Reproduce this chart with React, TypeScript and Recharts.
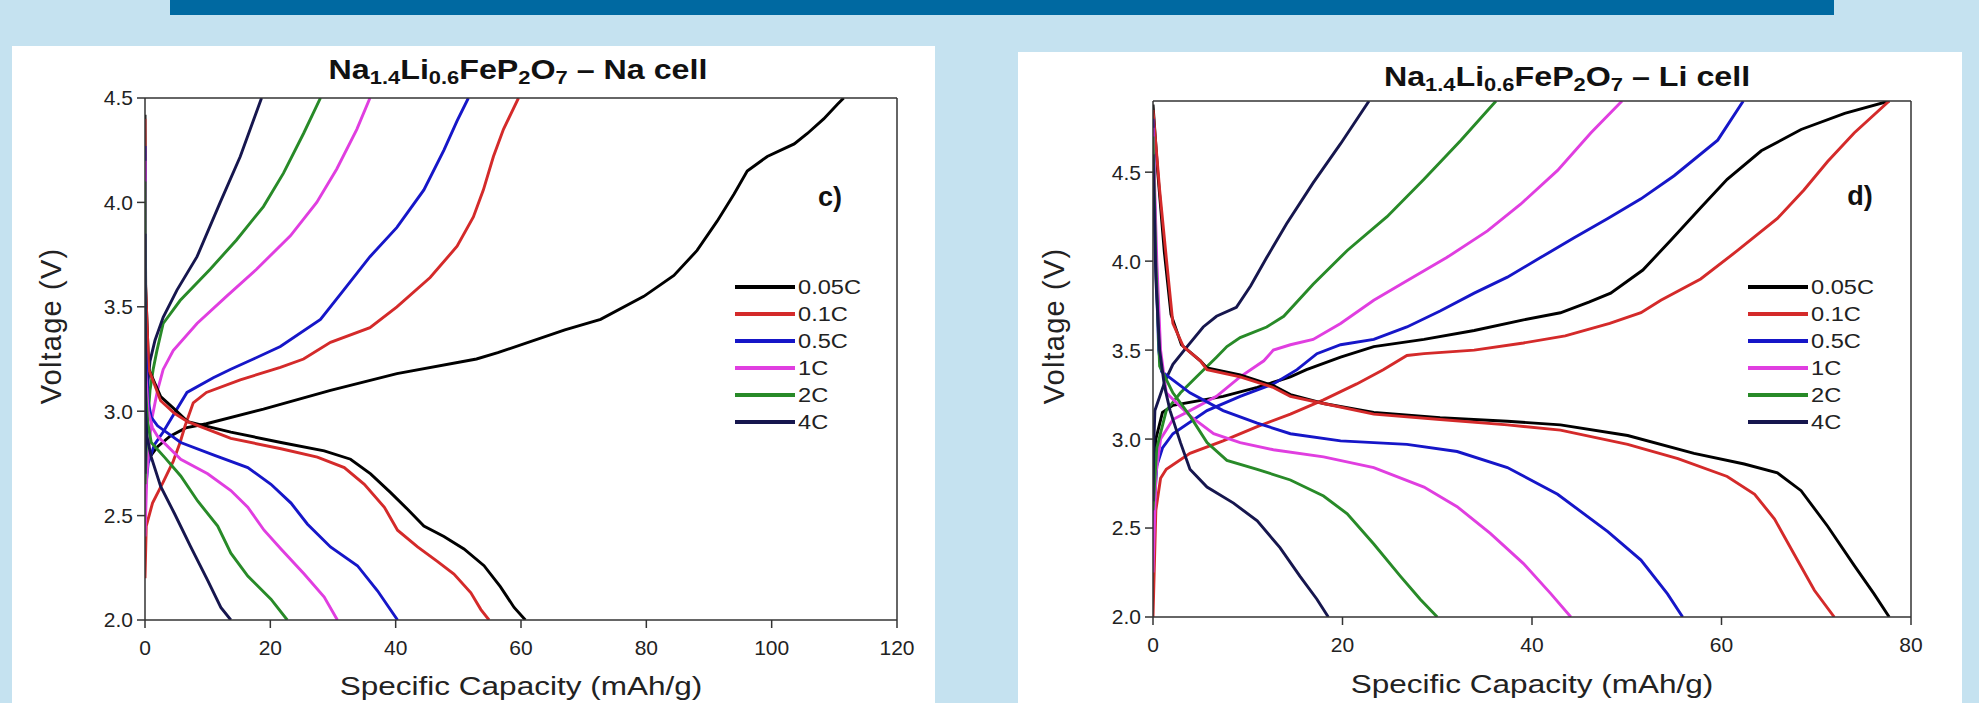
import { LineChart, Line, XAxis, YAxis } from "recharts";

const FONT = '"Liberation Sans", Arial, Helvetica, sans-serif';

type Pt = [number, number];

const rates = ["0.05C", "0.1C", "0.5C", "1C", "2C", "4C"];
const rateColors = ["#000000", "#d42a2a", "#1616c8", "#e03ee0", "#288a28", "#16164e"];

// ---- Na cell: charge curves [capacity mAh/g, voltage V]
const naCh005: Pt[] = [[0, 2.75], [2, 2.83], [4, 2.88], [6.5, 2.92], [9.8, 2.94], [18.9, 3.01], [29.6, 3.1], [40.2, 3.18], [52.9, 3.25], [56.3, 3.28], [67, 3.39], [72.7, 3.44], [79.6, 3.55], [84.4, 3.65], [88.1, 3.77], [91.3, 3.91], [94, 4.04], [96.1, 4.15], [99.3, 4.22], [103.6, 4.28], [105.7, 4.33], [108.3, 4.4], [110.5, 4.47], [111.5, 4.5]];
const naCh01: Pt[] = [[0, 2.2], [0.2, 2.45], [1.2, 2.56], [2.9, 2.66], [4.5, 2.76], [5.6, 2.85], [6.4, 2.93], [7.7, 3.04], [9.8, 3.09], [15.2, 3.15], [21.6, 3.21], [25.3, 3.25], [29.6, 3.33], [35.9, 3.4], [40.2, 3.5], [45.5, 3.64], [49.8, 3.79], [52.4, 3.93], [54, 4.06], [55.6, 4.22], [57.2, 4.35], [59.6, 4.5]];
const naCh05: Pt[] = [[0, 2.6], [0.5, 2.75], [1.5, 2.84], [2.9, 2.9], [5.1, 3.01], [6.7, 3.09], [10.9, 3.16], [13.6, 3.2], [17.3, 3.25], [21.6, 3.31], [28, 3.44], [31.7, 3.58], [35.9, 3.74], [40.2, 3.88], [44.5, 4.06], [47.7, 4.25], [49.8, 4.39], [51.6, 4.5]];
const naCh1: Pt[] = [[0, 2.4], [0.3, 2.7], [1, 2.95], [2, 3.1], [2.9, 3.2], [4.5, 3.29], [8.3, 3.42], [13, 3.55], [17.8, 3.68], [23.2, 3.84], [27.4, 4.0], [30.6, 4.16], [33.8, 4.35], [35.9, 4.5]];
const naCh2: Pt[] = [[0, 2.65], [0.3, 2.9], [0.8, 3.1], [1.3, 3.2], [1.9, 3.29], [2.9, 3.42], [5.6, 3.53], [10.4, 3.68], [14.6, 3.82], [18.9, 3.98], [22.1, 4.14], [25.3, 4.33], [28, 4.5]];
const naCh4: Pt[] = [[0, 2.7], [0.2, 3.0], [0.5, 3.15], [0.8, 3.24], [1.6, 3.34], [2.9, 3.45], [5.1, 3.58], [8.3, 3.74], [12, 4.0], [15.2, 4.22], [18.6, 4.5]];

// ---- Na cell: discharge curves
const naDis005: Pt[] = [[0, 4.42], [0.1, 3.6], [0.6, 3.2], [2.5, 3.07], [4.7, 3.01], [6.8, 2.95], [13.7, 2.9], [21.7, 2.85], [28.6, 2.81], [32.8, 2.77], [36, 2.7], [39.2, 2.61], [41.9, 2.53], [44.5, 2.45], [47.7, 2.4], [50.9, 2.34], [54.1, 2.26], [56.7, 2.16], [58.9, 2.06], [60.7, 2.0]];
const naDis01: Pt[] = [[0, 4.4], [0.1, 3.6], [0.6, 3.2], [2.5, 3.05], [4.7, 2.99], [6.8, 2.95], [13.7, 2.87], [21.7, 2.82], [27.5, 2.78], [31.8, 2.73], [35, 2.65], [38.2, 2.54], [40.3, 2.43], [43.5, 2.35], [46.7, 2.28], [49.3, 2.22], [52, 2.13], [53.6, 2.05], [54.9, 2.0]];
const naDis05: Pt[] = [[0, 4.27], [0.1, 3.3], [0.5, 3.05], [1, 2.97], [2, 2.93], [5.7, 2.85], [11, 2.79], [16.4, 2.73], [20.1, 2.65], [23.3, 2.56], [25.9, 2.46], [29.6, 2.35], [33.9, 2.26], [37.1, 2.14], [40.3, 2.0]];
const naDis1: Pt[] = [[0, 4.2], [0.1, 3.2], [0.5, 3.0], [1.2, 2.92], [2, 2.88], [5.7, 2.77], [10, 2.7], [13.7, 2.62], [16.4, 2.54], [19, 2.43], [21.7, 2.34], [25.4, 2.22], [28.6, 2.11], [30.7, 2.0]];
const naDis2: Pt[] = [[0, 4.1], [0.1, 3.1], [0.4, 2.95], [1, 2.85], [3.1, 2.78], [5.7, 2.69], [8.4, 2.57], [11.6, 2.45], [13.7, 2.32], [16.4, 2.21], [20.1, 2.1], [22.7, 2.0]];
const naDis4: Pt[] = [[0, 3.85], [0.1, 3.0], [0.3, 2.88], [1, 2.78], [2.5, 2.64], [4.7, 2.51], [7.3, 2.35], [10, 2.19], [12.1, 2.06], [13.7, 2.0]];

// ---- Li cell: charge curves
const liCh005: Pt[] = [[0, 2.7], [0.3, 3.0], [1, 3.15], [2.1, 3.19], [7.4, 3.24], [11, 3.29], [14.5, 3.35], [16.2, 3.39], [19.8, 3.46], [23.3, 3.52], [28.6, 3.56], [33.9, 3.61], [39.1, 3.67], [43, 3.71], [46, 3.77], [48.3, 3.82], [51.7, 3.95], [54.7, 4.12], [57.8, 4.3], [60.6, 4.46], [64.2, 4.62], [68.4, 4.74], [73, 4.83], [77.7, 4.9]];
const liCh01: Pt[] = [[0, 2.0], [0.3, 2.6], [0.8, 2.78], [1.4, 2.83], [3.9, 2.92], [7.4, 2.99], [11, 3.07], [14.5, 3.14], [18, 3.22], [21.5, 3.31], [24.3, 3.39], [26.8, 3.47], [28.6, 3.48], [33.9, 3.5], [39.1, 3.54], [43.5, 3.58], [48.2, 3.65], [51.5, 3.71], [53.6, 3.78], [57.8, 3.9], [61.7, 4.06], [65.9, 4.24], [68.7, 4.4], [71.2, 4.56], [74, 4.72], [77.7, 4.9]];
const liCh05: Pt[] = [[0, 2.5], [0.4, 2.85], [1, 2.95], [2.1, 3.03], [5.7, 3.16], [9.2, 3.24], [12.7, 3.31], [15.2, 3.39], [17.3, 3.48], [19.8, 3.53], [23.3, 3.56], [26.8, 3.63], [30.3, 3.72], [33.9, 3.82], [37.4, 3.91], [40.9, 4.02], [44.4, 4.13], [48, 4.24], [51.5, 4.35], [55, 4.48], [59.6, 4.68], [62.3, 4.9]];
const liCh1: Pt[] = [[0, 2.25], [0.3, 2.8], [0.8, 3.0], [2.1, 3.11], [3.9, 3.16], [6.7, 3.24], [9.2, 3.35], [11.7, 3.44], [12.7, 3.5], [14.5, 3.53], [16.9, 3.56], [19.8, 3.65], [23.3, 3.78], [26.8, 3.89], [31, 4.02], [35.3, 4.17], [38.8, 4.32], [42.7, 4.51], [46.2, 4.72], [49.5, 4.9]];
const liCh2: Pt[] = [[0, 2.6], [0.4, 2.95], [1.4, 3.16], [2.9, 3.26], [4.6, 3.35], [6.7, 3.46], [7.8, 3.52], [9.2, 3.57], [12, 3.63], [13.8, 3.69], [16.9, 3.87], [20.5, 4.06], [24.7, 4.25], [28.6, 4.46], [32.5, 4.68], [36.2, 4.9]];
const liCh4: Pt[] = [[0, 2.65], [0.1, 3.0], [0.2, 3.16], [1.3, 3.33], [2.1, 3.42], [3.6, 3.52], [5.3, 3.63], [6.7, 3.69], [8.8, 3.74], [10.3, 3.86], [12, 4.02], [14.1, 4.21], [16.9, 4.44], [19.8, 4.66], [22.8, 4.9]];

// ---- Li cell: discharge curves
const liDis005: Pt[] = [[0, 4.88], [0.5, 4.5], [1.2, 4.05], [1.9, 3.7], [3, 3.53], [5, 3.44], [5.7, 3.4], [9.2, 3.36], [12.7, 3.3], [14.5, 3.25], [18, 3.2], [23.3, 3.15], [30.3, 3.12], [37.4, 3.1], [43, 3.08], [50.1, 3.02], [57.1, 2.92], [62.4, 2.86], [65.9, 2.81], [68.4, 2.71], [71.2, 2.51], [74, 2.29], [76.1, 2.13], [77.7, 2.0]];
const liDis01: Pt[] = [[0, 4.85], [0.7, 4.4], [1.4, 4.02], [2.1, 3.65], [3.2, 3.52], [5, 3.44], [5.7, 3.39], [9.2, 3.35], [12.7, 3.29], [14.5, 3.24], [18, 3.2], [23.3, 3.14], [30.3, 3.11], [37.4, 3.08], [43, 3.05], [50.1, 2.97], [55.4, 2.89], [60.6, 2.79], [63.5, 2.69], [65.6, 2.55], [67.7, 2.35], [69.8, 2.15], [71.9, 2.0]];
const liDis05: Pt[] = [[0, 4.8], [0.3, 4.0], [0.6, 3.5], [0.9, 3.38], [3.9, 3.26], [7.4, 3.16], [11, 3.09], [14.5, 3.03], [19.8, 2.99], [26.8, 2.97], [32.1, 2.93], [37.4, 2.84], [42.7, 2.69], [48, 2.48], [51.5, 2.32], [54.3, 2.13], [55.9, 2.0]];
const liDis1: Pt[] = [[0, 4.75], [0.4, 4.0], [0.8, 3.5], [1.4, 3.26], [3.9, 3.13], [6.4, 3.03], [9.2, 2.98], [12.7, 2.94], [18, 2.9], [23.3, 2.84], [28.6, 2.73], [32.1, 2.62], [35.6, 2.47], [39.1, 2.3], [42, 2.13], [44.1, 2.0]];
const liDis2: Pt[] = [[0, 4.7], [0.3, 4.0], [0.7, 3.41], [2.1, 3.26], [3.9, 3.13], [5.7, 2.98], [7.8, 2.88], [11, 2.83], [14.5, 2.77], [18, 2.68], [20.5, 2.58], [23.3, 2.41], [26.1, 2.23], [28.2, 2.1], [30, 2.0]];
const liDis4: Pt[] = [[0, 4.6], [0.3, 3.9], [0.7, 3.5], [1.2, 3.3], [1.8, 3.16], [2.9, 2.98], [3.9, 2.83], [5.7, 2.73], [8.5, 2.64], [11, 2.54], [13.4, 2.39], [15.5, 2.23], [17.3, 2.1], [18.5, 2.0]];

const naCharge = [naCh005, naCh01, naCh05, naCh1, naCh2, naCh4];
const naDischarge = [naDis005, naDis01, naDis05, naDis1, naDis2, naDis4];
const liCharge = [liCh005, liCh01, liCh05, liCh1, liCh2, liCh4];
const liDischarge = [liDis005, liDis01, liDis05, liDis1, liDis2, liDis4];

// ticks
const naXTicks = [0, 20, 40, 60, 80, 100, 120];
const naXMinor = [10, 30, 50, 70, 90, 110];
const naYTicks = [2.0, 2.5, 3.0, 3.5, 4.0, 4.5];
const naYMinor = [2.25, 2.75, 3.25, 3.75, 4.25];
const liXTicks = [0, 20, 40, 60, 80];
const liXMinor = [10, 30, 50, 70];
const liYTicks = [2.0, 2.5, 3.0, 3.5, 4.0, 4.5];
const liYMinor = [2.25, 2.75, 3.25, 3.75, 4.25, 4.75];

const toXY = (d: Pt[]) => d.map(([x, y]) => ({ x, y }));

type PanelProps = {
  left: number;
  top: number;
  width: number;
  height: number;
  plot: { left: number; top: number; right: number; bottom: number };
  xDomain: [number, number];
  yDomain: [number, number];
  xTicks: number[];
  xMinor: number[];
  yTicks: number[];
  yMinor: number[];
  charge: Pt[][];
  discharge: Pt[][];
  cell: string;
  titleX: number;
  titleY: number;
  letter: string;
  letterX: number;
  letterY: number;
  legendX: number;
  legendY: number;
  xLabelY: number;
  yLabelX: number;
  yLabelY: number;
};

const axisColor = "#333";
const X_H = 75;
const Y_W = 100;

function Panel(p: PanelProps) {
  const margin = {
    top: p.plot.top - 2,
    right: p.width - p.plot.right - 2,
    bottom: p.height - p.plot.bottom - 1 - X_H,
    left: p.plot.left - 1 - Y_W,
  };
  const line = { stroke: axisColor, strokeWidth: 1.5 };
  const tickFont = { fill: "#222", fontSize: 21, fontFamily: FONT };
  const sub = { fontSize: "0.68em", verticalAlign: "-0.28em", lineHeight: 0 };
  const plotMidX = (p.plot.left + p.plot.right) / 2;
  return (
    <div
      style={{
        position: "absolute",
        left: p.left,
        top: p.top,
        width: p.width,
        height: p.height,
        background: "#ffffff",
      }}
    >
      <LineChart width={p.width} height={p.height} margin={margin}>
        <XAxis xAxisId="xMinor" type="number" dataKey="x" domain={p.xDomain} ticks={p.xMinor} allowDataOverflow height={1} tickSize={5} tick={false} axisLine={false} tickLine={line} />
        <XAxis
          xAxisId="x"
          type="number"
          dataKey="x"
          domain={p.xDomain}
          ticks={p.xTicks}
          interval={0}
          allowDataOverflow
          height={X_H}
          tickSize={8}
          tickMargin={12}
          axisLine={line}
          tickLine={line}
          tick={tickFont}
        />
        <XAxis xAxisId="xTop" orientation="top" type="number" dataKey="x" domain={p.xDomain} ticks={p.xTicks} allowDataOverflow height={1} tickSize={-8} tick={false} axisLine={line} tickLine={line} />
        <XAxis xAxisId="xTopMinor" orientation="top" type="number" dataKey="x" domain={p.xDomain} ticks={p.xMinor} allowDataOverflow height={1} tickSize={-5} tick={false} axisLine={false} tickLine={line} />
        <YAxis yAxisId="yMinor" type="number" domain={p.yDomain} ticks={p.yMinor} allowDataOverflow width={1} tickSize={5} tick={false} axisLine={false} tickLine={line} />
        <YAxis
          yAxisId="y"
          type="number"
          domain={p.yDomain}
          ticks={p.yTicks}
          interval={0}
          allowDataOverflow
          width={Y_W}
          tickSize={8}
          tickMargin={4}
          axisLine={line}
          tickLine={line}
          tick={tickFont}
          tickFormatter={(v: number) => v.toFixed(1)}
        />
        <YAxis yAxisId="yRight" orientation="right" type="number" domain={p.yDomain} ticks={p.yTicks} allowDataOverflow width={1} tickSize={-8} tick={false} axisLine={line} tickLine={line} />
        <YAxis yAxisId="yRightMinor" orientation="right" type="number" domain={p.yDomain} ticks={p.yMinor} allowDataOverflow width={1} tickSize={-5} tick={false} axisLine={false} tickLine={line} />
        {rates.map((r, i) => (
          <Line
            key={"c" + r}
            xAxisId="x"
            yAxisId="y"
            data={toXY(p.charge[i])}
            dataKey="y"
            type="linear"
            stroke={rateColors[i]}
            strokeWidth={2.9}
            dot={false}
            isAnimationActive={false}
          />
        ))}
        {rates.map((r, i) => (
          <Line
            key={"d" + r}
            xAxisId="x"
            yAxisId="y"
            data={toXY(p.discharge[i])}
            dataKey="y"
            type="linear"
            stroke={rateColors[i]}
            strokeWidth={2.9}
            dot={false}
            isAnimationActive={false}
          />
        ))}
      </LineChart>

      {/* chart title */}
      <div
        style={{
          position: "absolute",
          left: p.titleX,
          top: p.titleY,
          transform: "translateX(-50%) scaleX(1.15)",
          whiteSpace: "nowrap",
          fontFamily: FONT,
          fontWeight: "bold",
          fontSize: 28,
          lineHeight: "28px",
          color: "#111",
        }}
      >
        Na<span style={sub}>1.4</span>Li<span style={sub}>0.6</span>FeP<span style={sub}>2</span>O
        <span style={sub}>7</span> – {p.cell}
      </div>

      {/* axis titles */}
      <div
        style={{
          position: "absolute",
          left: plotMidX,
          top: p.xLabelY,
          transform: "translateX(-50%) scaleX(1.26)",
          whiteSpace: "nowrap",
          fontFamily: FONT,
          fontSize: 25,
          lineHeight: "25px",
          color: "#222",
        }}
      >
        Specific Capacity (mAh/g)
      </div>
      <div
        style={{
          position: "absolute",
          left: p.yLabelX,
          top: p.yLabelY,
          transform: "translate(-50%, -50%) rotate(-90deg)",
          whiteSpace: "nowrap",
          fontFamily: FONT,
          fontSize: 29,
          letterSpacing: 1.2,
          lineHeight: "29px",
          color: "#222",
        }}
      >
        Voltage (V)
      </div>

      <div
        style={{
          position: "absolute",
          left: p.letterX,
          top: p.letterY,
          transform: "translate(-50%, -50%)",
          fontFamily: FONT,
          fontWeight: "bold",
          fontSize: 27,
          color: "#111",
        }}
      >
        {p.letter}
      </div>

      {rates.map((r, i) => (
        <div
          key={"lg" + r}
          style={{
            position: "absolute",
            left: p.legendX,
            top: p.legendY + i * 27 - 12,
            height: 24,
            display: "flex",
            alignItems: "center",
            fontFamily: FONT,
            fontSize: 20,
            color: "#222",
            whiteSpace: "nowrap",
          }}
        >
          <div style={{ width: 60, height: 3.5, background: rateColors[i], marginRight: 3 }} />
          <span style={{ display: "inline-block", transform: "scaleX(1.18)", transformOrigin: "left center" }}>{r}</span>
        </div>
      ))}
    </div>
  );
}

export default function App() {
  return (
    <div
      style={{
        position: "absolute",
        left: 0,
        top: 0,
        width: 1979,
        height: 703,
        background: "#c5e2f0",
        overflow: "hidden",
      }}
    >
      <div style={{ position: "absolute", left: 170, top: 0, width: 1664, height: 15, background: "#0069a1" }} />
      <Panel
        left={12}
        top={46}
        width={923}
        height={657}
        plot={{ left: 133, top: 52, right: 885, bottom: 574 }}
        xDomain={[0, 120]}
        yDomain={[2, 4.5]}
        xTicks={naXTicks}
        xMinor={naXMinor}
        yTicks={naYTicks}
        yMinor={naYMinor}
        charge={naCharge}
        discharge={naDischarge}
        cell="Na cell"
        titleX={506}
        titleY={10}
        letter="c)"
        letterX={818}
        letterY={151}
        legendX={723}
        legendY={241}
        xLabelY={628}
        yLabelX={39}
        yLabelY={280}
      />
      <Panel
        left={1018}
        top={52}
        width={944}
        height={651}
        plot={{ left: 135, top: 49, right: 893, bottom: 565 }}
        xDomain={[0, 80]}
        yDomain={[2, 4.9]}
        xTicks={liXTicks}
        xMinor={liXMinor}
        yTicks={liYTicks}
        yMinor={liYMinor}
        charge={liCharge}
        discharge={liDischarge}
        cell="Li cell"
        titleX={549}
        titleY={11}
        letter="d)"
        letterX={842}
        letterY={144}
        legendX={730}
        legendY={235}
        xLabelY={620}
        yLabelX={36}
        yLabelY={274}
      />
    </div>
  );
}
